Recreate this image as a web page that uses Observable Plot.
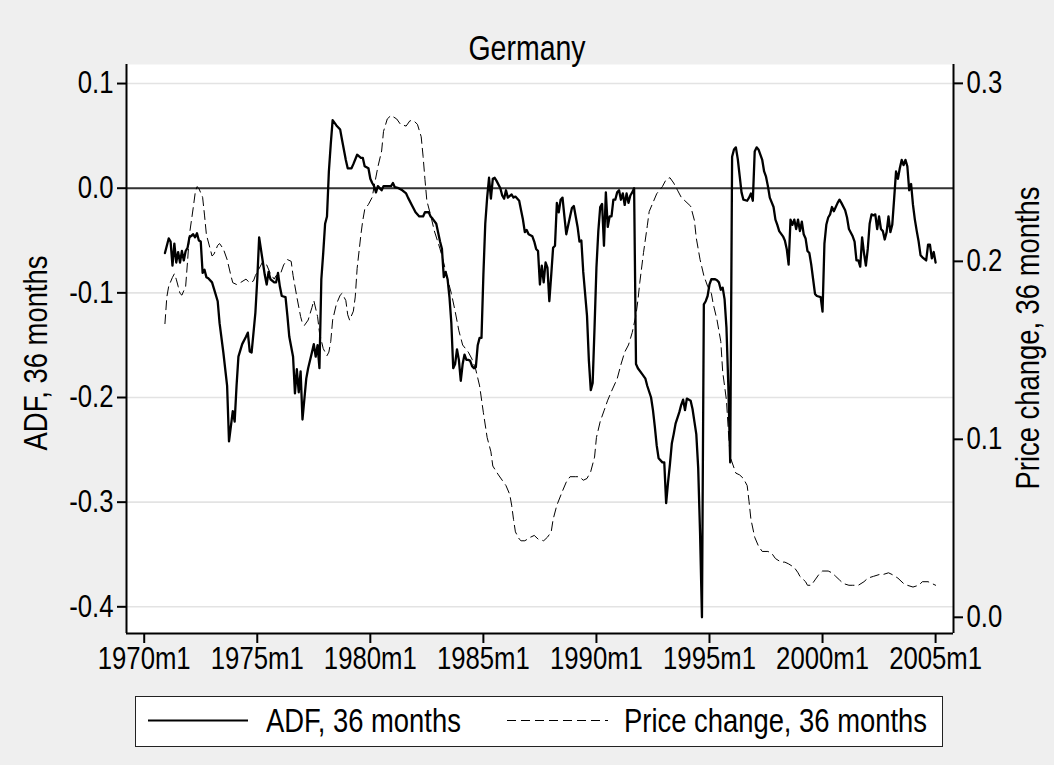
<!DOCTYPE html>
<html><head><meta charset="utf-8">
<script src="https://cdn.jsdelivr.net/npm/d3@7"></script>
<script src="https://cdn.jsdelivr.net/npm/@observablehq/plot@0.6"></script>
<style>
html,body{margin:0;padding:0;background:#efefef;}
#wrap{position:relative;width:1054px;height:765px;background:#efefef;font-family:"Liberation Sans",Arial,sans-serif;overflow:hidden;color:#000}
#chart{position:absolute;left:0;top:0}
#title{position:absolute;left:0;top:31px;width:1054px;text-align:center;font-size:34.3px;line-height:34.3px;transform:scaleX(0.83);transform-origin:527px 0}
#legend{position:absolute;left:135px;top:696px;width:806px;height:49px;background:#fff;border:1.5px solid #222;}
#legend .t{position:absolute;top:7px;font-size:33px;line-height:33px;white-space:nowrap;transform:scaleX(0.83);transform-origin:0 0}
#legend svg{position:absolute;top:0;left:0}
</style></head>
<body><div id="wrap"><div id="chart"></div><div id="title">Germany</div><div id="legend"></div></div>
<script>
const seriesNames = ["ADF, 36 months", "Price change, 36 months"];
const xTickLabels = ["1970m1","1975m1","1980m1","1985m1","1990m1","1995m1","2000m1","2005m1"];
const leftTicks = [-0.4, -0.3, -0.2, -0.1, 0.0, 0.1];
const rightTicks = [0.0, 0.1, 0.2, 0.3];

const adfDates = ["1970m12","1971m2","1971m3","1971m4","1971m5","1971m6","1971m7","1971m8","1971m9","1971m10","1971m11","1971m12",
"1972m1","1972m3","1972m4","1972m5","1972m6","1972m7","1972m8","1972m9","1972m10","1972m11",
"1973m1","1973m2","1973m4","1973m5","1973m7","1973m9","1973m10","1973m12",
"1974m1","1974m2","1974m3","1974m5","1974m7","1974m8","1974m9","1974m10","1974m12",
"1975m1","1975m2","1975m4","1975m5","1975m6","1975m7","1975m8","1975m10","1975m11","1975m12",
"1976m1","1976m2","1976m4","1976m5","1976m6","1976m8","1976m9","1976m10","1976m11","1976m12",
"1977m1","1977m3","1977m4","1977m6","1977m7","1977m8","1977m9","1977m10","1977m11","1977m12",
"1978m1","1978m2","1978m3","1978m4","1978m5","1978m7","1978m9","1978m10","1978m12",
"1979m1","1979m3","1979m4","1979m6","1979m8","1979m9","1979m10","1979m12",
"1980m1","1980m2","1980m3","1980m4","1980m5","1980m7","1980m8","1980m10","1980m12",
"1981m1","1981m2","1981m4","1981m6","1981m8","1981m9","1981m11",
"1982m1","1982m3","1982m5","1982m6","1982m8","1982m9","1982m10","1982m12",
"1983m2","1983m3","1983m4","1983m5","1983m6","1983m7","1983m8","1983m9","1983m10","1983m11","1983m12",
"1984m1","1984m2","1984m3","1984m4","1984m5","1984m6","1984m7","1984m8","1984m9","1984m10","1984m11","1984m12",
"1985m1","1985m2","1985m3","1985m4","1985m5","1985m6","1985m7","1985m8","1985m10","1985m11","1985m12",
"1986m1","1986m2","1986m4","1986m5","1986m6","1986m8","1986m9","1986m10","1986m11","1986m12",
"1987m1","1987m3","1987m4","1987m5","1987m6","1987m7","1987m8","1987m9","1987m10","1987m11","1987m12",
"1988m1","1988m2","1988m3","1988m4","1988m5","1988m6","1988m7","1988m8","1988m9","1988m11","1988m12",
"1989m1","1989m3","1989m4","1989m5","1989m6","1989m8","1989m9","1989m10","1989m11","1989m12",
"1990m1","1990m2","1990m3","1990m4","1990m5","1990m6","1990m7","1990m8","1990m9","1990m10","1990m11","1990m12",
"1991m1","1991m2","1991m3","1991m4","1991m5","1991m6","1991m7","1991m8","1991m9","1991m10","1991m11",
"1992m1","1992m3","1992m4","1992m6","1992m7","1992m8","1992m9","1992m10","1992m12",
"1993m1","1993m2","1993m3","1993m4","1993m5","1993m6","1993m7","1993m9","1993m10","1993m11","1993m12",
"1994m1","1994m3","1994m4","1994m5","1994m6","1994m7","1994m8","1994m9","1994m10","1994m11","1994m12",
"1995m1","1995m2","1995m4","1995m5","1995m6","1995m7","1995m8","1995m9","1995m10","1995m11","1995m12",
"1996m1","1996m2","1996m3","1996m4","1996m5","1996m6","1996m7","1996m9","1996m10","1996m11","1996m12",
"1997m1","1997m2","1997m3","1997m5","1997m6","1997m7","1997m8","1997m9","1997m11","1997m12",
"1998m1","1998m2","1998m4","1998m5","1998m6","1998m7","1998m8","1998m9","1998m10","1998m11","1998m12",
"1999m1","1999m2","1999m3","1999m4","1999m5","1999m6","1999m7","1999m8","1999m9","1999m10","1999m12",
"2000m1","2000m2","2000m3","2000m4","2000m5","2000m6","2000m7","2000m9","2000m10","2000m11",
"2001m1","2001m2","2001m3","2001m5","2001m6","2001m7","2001m8","2001m9","2001m10","2001m11","2001m12",
"2002m1","2002m2","2002m3","2002m4","2002m5","2002m6","2002m7","2002m8","2002m9","2002m10","2002m11","2002m12",
"2003m1","2003m2","2003m3","2003m4","2003m5","2003m6","2003m7","2003m8","2003m9","2003m10","2003m11","2003m12",
"2004m1","2004m2","2004m3","2004m4","2004m5","2004m6","2004m8","2004m9","2004m10","2004m11","2004m12","2005m1"];
const adfValues = [-0.062,-0.048,-0.051,-0.074,-0.053,-0.071,-0.061,-0.071,-0.060,-0.069,-0.060,-0.057,
-0.047,-0.044,-0.047,-0.043,-0.050,-0.051,-0.081,-0.078,-0.085,-0.086,
-0.090,-0.096,-0.108,-0.129,-0.157,-0.189,-0.242,-0.213,
-0.223,-0.189,-0.161,-0.149,-0.142,-0.138,-0.156,-0.157,-0.119,
-0.087,-0.047,-0.071,-0.083,-0.092,-0.080,-0.087,-0.090,-0.090,-0.081,
-0.094,-0.103,-0.104,-0.122,-0.142,-0.161,-0.196,-0.173,-0.195,-0.175,
-0.221,-0.182,-0.172,-0.157,-0.149,-0.161,-0.150,-0.172,-0.087,-0.062,
-0.034,-0.027,0.016,0.042,0.065,0.060,0.056,0.046,0.027,
0.019,0.019,0.023,0.032,0.029,0.029,0.021,0.019,
0.009,0.005,0.002,-0.004,0.002,-0.002,0.002,0.002,0.002,
0.005,0.001,0.000,-0.002,-0.005,-0.009,-0.016,
-0.023,-0.027,-0.027,-0.023,-0.023,-0.027,-0.029,-0.034,
-0.051,-0.058,-0.085,-0.080,-0.087,-0.104,-0.129,-0.172,-0.168,-0.154,-0.164,
-0.184,-0.168,-0.159,-0.164,-0.164,-0.165,-0.170,-0.172,-0.171,-0.150,-0.143,-0.143,
-0.083,-0.034,-0.009,0.010,-0.010,0.009,0.010,0.007,0.000,-0.007,-0.010,
-0.002,-0.009,-0.006,-0.009,-0.008,-0.012,-0.021,-0.030,-0.042,-0.040,
-0.044,-0.046,-0.051,-0.058,-0.060,-0.092,-0.074,-0.090,-0.071,-0.076,-0.108,
-0.083,-0.057,-0.055,-0.014,-0.023,-0.011,-0.009,-0.027,-0.044,-0.027,-0.019,
-0.017,-0.037,-0.051,-0.050,-0.080,-0.122,-0.165,-0.193,-0.186,-0.133,
-0.076,-0.041,-0.018,-0.015,-0.055,-0.004,-0.037,-0.027,-0.027,-0.011,-0.011,-0.004,
-0.002,-0.011,-0.005,-0.016,-0.005,-0.014,-0.007,-0.004,0.000,-0.168,-0.172,
-0.177,-0.182,-0.189,-0.200,-0.212,-0.228,-0.246,-0.258,-0.262,
-0.262,-0.301,-0.281,-0.264,-0.244,-0.235,-0.225,-0.214,-0.207,-0.202,-0.212,
-0.201,-0.203,-0.211,-0.223,-0.235,-0.267,-0.330,-0.410,-0.111,-0.108,-0.103,
-0.092,-0.087,-0.087,-0.088,-0.090,-0.097,-0.095,-0.106,-0.133,-0.189,-0.262,
0.030,0.037,0.039,0.028,0.012,-0.004,-0.011,-0.012,-0.009,-0.005,-0.012,
0.035,0.039,0.037,0.027,0.016,0.011,0.002,-0.009,-0.018,-0.030,
-0.035,-0.041,-0.046,-0.050,-0.058,-0.073,-0.030,-0.035,-0.030,-0.039,-0.030,
-0.041,-0.032,-0.044,-0.048,-0.060,-0.062,-0.073,-0.087,-0.101,-0.103,-0.104,
-0.118,-0.053,-0.035,-0.028,-0.025,-0.018,-0.022,-0.014,-0.011,-0.014,
-0.021,-0.028,-0.039,-0.046,-0.051,-0.069,-0.069,-0.075,-0.047,-0.062,-0.074,
-0.058,-0.034,-0.025,-0.026,-0.025,-0.039,-0.027,-0.039,-0.041,-0.049,-0.042,-0.027,
-0.042,-0.035,-0.010,0.016,0.009,0.019,0.027,0.022,0.027,0.021,-0.002,0.004,
-0.016,-0.030,-0.041,-0.051,-0.064,-0.066,-0.069,-0.054,-0.054,-0.067,-0.061,-0.071];

const priceDates = ["1970m12","1971m1","1971m2","1971m4","1971m5","1971m6","1971m7","1971m8","1971m9","1971m11","1971m12",
"1972m1","1972m3","1972m4","1972m5","1972m6","1972m8","1972m9","1972m10","1972m12",
"1973m1","1973m2","1973m4","1973m5","1973m7","1973m9","1973m11","1973m12",
"1974m2","1974m4","1974m7","1974m9","1974m11","1974m12",
"1975m3","1975m4","1975m6","1975m8","1975m10","1975m11",
"1976m1","1976m3","1976m5","1976m7","1976m8","1976m10","1976m12",
"1977m1","1977m2","1977m4","1977m6","1977m7","1977m9","1977m10","1977m12",
"1978m2","1978m3","1978m4","1978m5","1978m7","1978m9","1978m10","1978m12",
"1979m1","1979m2","1979m4","1979m5","1979m6","1979m8","1979m9","1979m10","1979m12",
"1980m2","1980m3","1980m5","1980m7","1980m8","1980m10","1980m12",
"1981m3","1981m5","1981m8","1981m10","1981m12",
"1982m2","1982m4","1982m5","1982m6","1982m7","1982m9","1982m11",
"1983m2","1983m4","1983m6","1983m8","1983m10","1983m12",
"1984m2","1984m5","1984m7","1984m9","1984m11",
"1985m1","1985m3","1985m5","1985m6","1985m9","1985m11",
"1986m1","1986m3","1986m4","1986m5","1986m6","1986m8","1986m9","1986m11",
"1987m2","1987m4","1987m6","1987m9","1987m11",
"1988m1","1988m2","1988m4","1988m7","1988m9","1988m11",
"1989m2","1989m4","1989m6","1989m8","1989m10","1989m12",
"1990m1","1990m3","1990m5","1990m7","1990m9","1990m12",
"1991m2","1991m4","1991m6","1991m8","1991m10","1991m11","1991m12",
"1992m2","1992m4","1992m5","1992m7","1992m9","1992m12",
"1993m2","1993m4","1993m6","1993m8","1993m10","1993m12",
"1994m3","1994m5","1994m6","1994m8","1994m10","1994m12",
"1995m2","1995m3","1995m5","1995m7","1995m8","1995m10","1995m11","1995m12",
"1996m2","1996m3","1996m5","1996m7","1996m9","1996m10","1996m11",
"1997m1","1997m3","1997m5","1997m8","1997m10","1997m12",
"1998m3","1998m5","1998m7","1998m10","1998m12",
"1999m1","1999m4","1999m5","1999m7","1999m9","1999m11",
"2000m1","2000m4","2000m6","2000m8","2000m10","2000m12",
"2001m3","2001m5","2001m8","2001m11",
"2002m1","2002m4","2002m7","2002m9","2002m12",
"2003m2","2003m5","2003m8","2003m10",
"2004m1","2004m4","2004m6","2004m9","2004m11","2005m1"];
const priceValues = [0.165,0.180,0.186,0.191,0.193,0.190,0.186,0.182,0.181,0.186,0.200,
0.215,0.230,0.238,0.242,0.241,0.236,0.226,0.215,0.207,
0.203,0.204,0.209,0.210,0.207,0.201,0.192,0.188,
0.187,0.188,0.190,0.188,0.189,0.192,
0.198,0.200,0.198,0.193,0.190,0.192,
0.192,0.198,0.201,0.200,0.192,0.180,0.169,
0.165,0.164,0.167,0.174,0.178,0.169,0.160,0.151,
0.147,0.149,0.155,0.167,0.176,0.181,0.182,0.178,
0.170,0.167,0.172,0.180,0.196,0.215,0.223,0.229,0.232,
0.236,0.242,0.253,0.262,0.273,0.280,0.282,
0.280,0.277,0.276,0.279,0.279,
0.277,0.270,0.259,0.246,0.234,0.226,0.217,
0.207,0.199,0.190,0.182,0.172,0.161,
0.153,0.149,0.145,0.139,0.130,
0.115,0.101,0.093,0.085,0.080,0.077,
0.074,0.069,0.063,0.055,0.048,0.044,0.043,0.043,
0.045,0.046,0.044,0.043,0.045,
0.048,0.055,0.063,0.071,0.076,0.079,
0.079,0.079,0.077,0.078,0.082,0.090,
0.101,0.110,0.116,0.122,0.127,0.134,
0.142,0.149,0.153,0.160,0.170,0.178,0.188,
0.205,0.220,0.228,0.233,0.238,0.242,
0.246,0.247,0.244,0.240,0.236,0.234,
0.231,0.223,0.213,0.201,0.192,0.186,
0.182,0.176,0.167,0.155,0.138,0.122,0.105,0.090,
0.084,0.081,0.080,0.078,0.074,0.065,0.055,
0.045,0.040,0.037,0.037,0.036,0.033,
0.031,0.031,0.030,0.028,0.025,
0.023,0.020,0.018,0.018,0.021,0.024,
0.026,0.026,0.025,0.023,0.021,0.019,
0.018,0.018,0.018,0.020,
0.022,0.023,0.024,0.024,0.025,
0.024,0.022,0.019,0.018,
0.017,0.018,0.020,0.020,0.019,0.018];

// ---- scales (left axis carries the ADF, right axis the price change) ----
const xDomain = [-9.4, 429.5];          // months since 1970m1
const yDomain = [-0.4255, 0.1182];      // ADF units
const rDomain = [-0.0091, 0.3106];      // price change units (same pixel span)
const toLeft = v => yDomain[0] + (v - rDomain[0]) / (rDomain[1] - rDomain[0]) * (yDomain[1] - yDomain[0]);
const toRight = v => rDomain[0] + (v - yDomain[0]) / (yDomain[1] - yDomain[0]) * (rDomain[1] - rDomain[0]);
function monthIndex(s) { const [y, m] = s.split("m").map(Number); return (y - 1970) * 12 + (m - 1); }
const fmt1 = v => { const t = v.toFixed(1); return t === "-0.0" ? "0.0" : t; };

const adf = adfDates.map((d, i) => ({m: monthIndex(d), v: adfValues[i]}));
const price = priceDates.map((d, i) => ({m: monthIndex(d), v: toLeft(priceValues[i])}));

const W = 1054, H = 690, frameBottom = 633, frameRight = 953;
const font = '"Liberation Sans", Arial, sans-serif';
const narrow = 0.83;   // the reference uses a condensed face

const chart = Plot.plot({
  width: W, height: H,
  marginTop: 64, marginBottom: H - frameBottom, marginLeft: 126, marginRight: W - frameRight,
  style: {background: "transparent", fontFamily: font, fontSize: "31px", color: "#000", overflow: "visible"},
  x: {domain: xDomain},
  y: {domain: yDomain},
  marks: [
    Plot.frame({fill: "white", stroke: null}),
    Plot.gridY(leftTicks, {stroke: "#e3e3e3", strokeOpacity: 1, strokeWidth: 1.6}),
    Plot.ruleY([0], {stroke: "#333", strokeWidth: 2}),
    Plot.line(price, {x: "m", y: "v", stroke: "#000", strokeWidth: 1, strokeDasharray: "9,5"}),
    Plot.line(adf, {x: "m", y: "v", stroke: "#000", strokeWidth: 2.3}),
    Plot.ruleX([xDomain[0], xDomain[1]], {stroke: "#000", strokeWidth: 2}),
    Plot.ruleY([yDomain[0]], {stroke: "#000", strokeWidth: 2}),
    Plot.axisY(leftTicks, {anchor: "left", tickFormat: fmt1, tickSize: 9, tickPadding: 4, strokeWidth: 2, label: null, fontSize: 31}),
    Plot.axisY(rightTicks.map(toLeft), {anchor: "right", tickFormat: d => fmt1(toRight(d)), tickSize: 9, tickPadding: 4, strokeWidth: 2, label: null, fontSize: 31}),
    Plot.axisX(xTickLabels.map(monthIndex), {anchor: "bottom", tickFormat: d => xTickLabels[Math.round(d / 60)], tickSize: 10, tickPadding: 3, strokeWidth: 2, label: null, fontSize: 31}),
    Plot.text([seriesNames[0]], {frameAnchor: "left", rotate: -90, dx: -90, dy: 4, textAnchor: "middle", lineAnchor: "middle", fontSize: 33}),
    Plot.text([seriesNames[1]], {frameAnchor: "right", rotate: -90, dx: 75, dy: -11, textAnchor: "middle", lineAnchor: "middle", fontSize: 33})
  ]
});
// condense every label along its reading direction
d3.select(chart).selectAll("text").each(function () {
  const t = this.getAttribute("transform") || "";
  this.setAttribute("transform", t + ` scale(${narrow},1)`);
});
document.getElementById("chart").appendChild(chart);

// ---- legend ----
const lg = d3.select("#legend");
const sw = lg.append("svg").attr("width", 806).attr("height", 49);
const items = [
  {name: seriesNames[0], x0: 12, x1: 112, tx: 129.5, w: 2, dash: null},
  {name: seriesNames[1], x0: 371, x1: 472, tx: 487.5, w: 1.2, dash: "9,5"}
];
items.forEach(it => {
  sw.append("line").attr("x1", it.x0).attr("x2", it.x1).attr("y1", 23.5).attr("y2", 23.5)
    .attr("stroke", "#000").attr("stroke-width", it.w).attr("stroke-dasharray", it.dash);
  lg.append("div").attr("class", "t").style("left", it.tx + "px").text(it.name);
});
</script>
</body></html>
